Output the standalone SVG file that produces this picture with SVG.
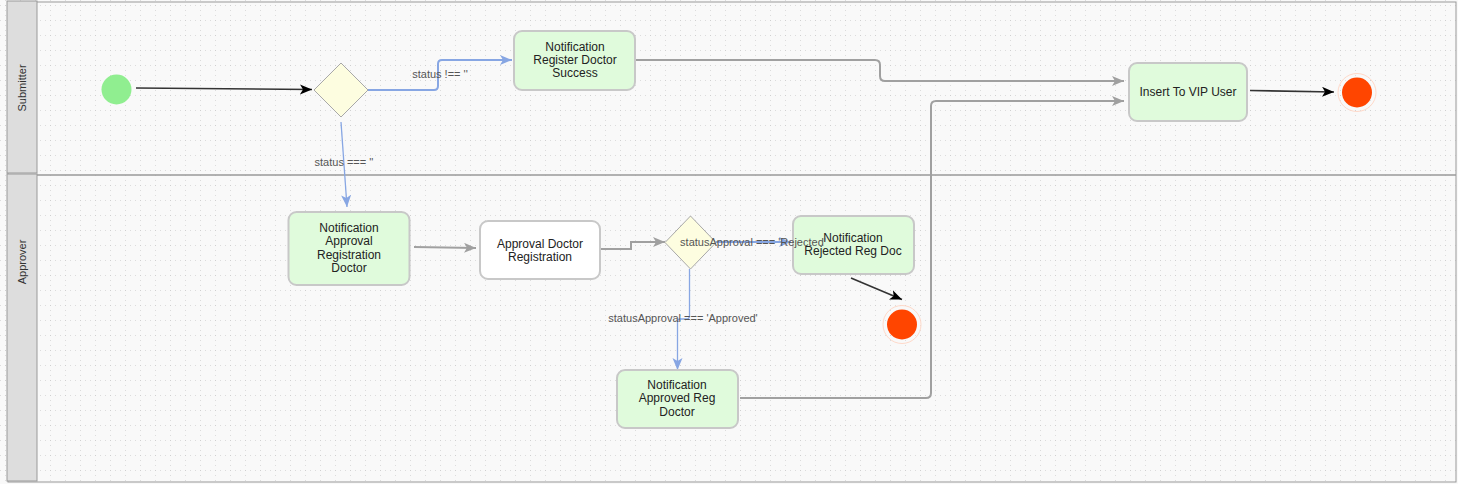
<svg xmlns="http://www.w3.org/2000/svg" width="1458" height="484" viewBox="0 0 1458 484">
<style>
.node{fill:#e0fbdc;stroke:#c8c8c8;stroke-width:2}
.task{fill:#ffffff;stroke:#c8c8c8;stroke-width:2}
.gw{fill:#fdfde0;stroke:#a8a8a8;stroke-width:1}
.start{fill:#90ee90}
.end{fill:#ff4500}
.ring{fill:none;stroke:#ffd9c9;stroke-width:1}
.t{font-family:"Liberation Sans",Arial,sans-serif;font-size:12px;fill:#222;text-anchor:middle}
.lbl{font-family:"Liberation Sans",Arial,sans-serif;font-size:11px;fill:#555;text-anchor:middle}
.lane{font-family:"Liberation Sans",Arial,sans-serif;font-size:11px;fill:#333;text-anchor:middle}
.eg{fill:none;stroke:#a0a0a0;stroke-width:2}
.eb{fill:none;stroke:#87a6e3;stroke-width:2}
.ebt{fill:none;stroke:#87a6e3;stroke-width:1.3}
.ek{fill:none;stroke:#333;stroke-width:1.6}
</style>
<defs>
<pattern id="grid" width="15" height="15" patternUnits="userSpaceOnUse" x="5" y="5">
<rect x="0" y="0" width="1" height="1" fill="#cfcfcf"/>
<rect x="5" y="0" width="1" height="1" fill="#dcdcdc"/>
<rect x="10" y="0" width="1" height="1" fill="#dcdcdc"/>
<rect x="0" y="5" width="1" height="1" fill="#dcdcdc"/>
<rect x="0" y="10" width="1" height="1" fill="#dcdcdc"/>
</pattern>
<marker id="ag" markerWidth="14" markerHeight="12" refX="12" refY="5" orient="auto" markerUnits="userSpaceOnUse"><path d="M0,0 L12,5 L0,10 L3,5 z" fill="#a0a0a0"/></marker>
<marker id="ab" markerWidth="14" markerHeight="12" refX="12" refY="5" orient="auto" markerUnits="userSpaceOnUse"><path d="M0,0 L12,5 L0,10 L3,5 z" fill="#87a6e3"/></marker>
<marker id="ak" markerWidth="14" markerHeight="12" refX="12" refY="5" orient="auto" markerUnits="userSpaceOnUse"><path d="M0,0 L12,5 L0,10 L3,5 z" fill="#000"/></marker>
</defs>
<rect x="0" y="0" width="1458" height="484" fill="#f9f9f9"/>
<rect x="0" y="0" width="1458" height="484" fill="url(#grid)"/>
<g id="lanes">
<rect x="8" y="2" width="1448" height="480" fill="none" stroke="#999" stroke-width="1"/>
<rect x="7" y="1" width="30" height="172" fill="#dddddd" stroke="#999" stroke-width="1"/>
<rect x="7" y="174" width="30" height="307" fill="#dddddd" stroke="#999" stroke-width="1"/>
<line x1="37" y1="175" x2="1456" y2="175" stroke="#999" stroke-width="1.5"/>
<text class="lane" transform="translate(26,88) rotate(-90)">Submitter</text>
<text class="lane" transform="translate(26,262) rotate(-90)">Approver</text>
</g>
<g id="connectors">
<line class="ek" x1="136" y1="88" x2="312" y2="89.5" marker-end="url(#ak)"/>
<path class="eb" d="M368,90 L434,90 Q438,90 438,86 L438,64 Q438,60 442,60 L512,60" marker-end="url(#ab)"/>
<line class="ebt" x1="341" y1="122" x2="347" y2="207" marker-end="url(#ab)"/>
<path class="eg" d="M636,60 L875,60 Q880,60 880,65 L880,76 Q880,81 885,81 L1124,81" marker-end="url(#ag)"/>
<path class="eg" d="M740,398 L926,398 Q931,398 931,393 L931,106 Q931,101 936,101 L1124,101" marker-end="url(#ag)"/>
<line class="ek" x1="1250" y1="90.5" x2="1334" y2="92" marker-end="url(#ak)"/>
<line class="eg" x1="414" y1="247" x2="476" y2="248" marker-end="url(#ag)" stroke-width="1.3"/>
<path class="eg" d="M600,249 L631,249 L631,242 L665,242" marker-end="url(#ag)"/>
<path class="eb" d="M716,242 L791,242" marker-end="url(#ab)"/>
<path class="ebt" d="M689.5,269 L689.5,316 Q689.5,319 686,319 L680,319 Q677.5,319 677.5,322 L677.5,370" marker-end="url(#ab)"/>
<line class="ek" x1="851" y1="278" x2="902" y2="299.5" marker-end="url(#ak)"/>
</g>
<g id="start">
<circle class="start" cx="116.5" cy="89.5" r="15"/>
</g>
<g id="gateway1">
<polygon class="gw" points="341,63 368,90 341,117 314,90"/>
</g>
<g id="notifRegisterSuccess">
<rect class="node" x="514" y="31" width="121" height="59" rx="8"/>
<text class="t" x="575" y="51">Notification</text>
<text class="t" x="575" y="64">Register Doctor</text>
<text class="t" x="575" y="77">Success</text>
</g>
<g id="insertVip">
<rect class="node" x="1129" y="63" width="118" height="58" rx="8"/>
<text class="t" x="1188" y="96">Insert To VIP User</text>
</g>
<g id="end1">
<circle class="ring" cx="1357" cy="92.5" r="19"/>
<circle class="end" cx="1357" cy="92.5" r="15"/>
</g>
<g id="notifApprovalReg">
<rect class="node" x="288.5" y="212" width="121" height="73" rx="8"/>
<text class="t" x="349" y="232">Notification</text>
<text class="t" x="349" y="245">Approval</text>
<text class="t" x="349" y="259">Registration</text>
<text class="t" x="349" y="272">Doctor</text>
</g>
<g id="approvalDoctorReg">
<rect class="task" x="480" y="221" width="120" height="58" rx="8"/>
<text class="t" x="540" y="248">Approval Doctor</text>
<text class="t" x="540" y="261">Registration</text>
</g>
<g id="gateway2">
<polygon class="gw" points="690.5,216 716,242.5 690.5,269 665,242.5"/>
</g>
<g id="notifRejected">
<rect class="node" x="793" y="216" width="121" height="58" rx="8"/>
<text class="t" x="853" y="242">Notification</text>
<text class="t" x="853" y="255">Rejected Reg Doc</text>
</g>
<g id="end2">
<circle class="ring" cx="902" cy="324.5" r="19"/>
<circle class="end" cx="902" cy="324.5" r="15"/>
</g>
<g id="notifApproved">
<rect class="node" x="617" y="370" width="121" height="58" rx="8"/>
<text class="t" x="677" y="389">Notification</text>
<text class="t" x="677" y="402">Approved Reg</text>
<text class="t" x="677" y="416">Doctor</text>
</g>
<g id="edge-labels">
<text class="lbl" x="440" y="78">status !== ''</text>
<text class="lbl" x="344" y="166">status === ''</text>
<text class="lbl" x="753" y="246">statusApproval === 'Rejected'</text>
<text class="lbl" x="683" y="322">statusApproval === 'Approved'</text>
</g>
</svg>
